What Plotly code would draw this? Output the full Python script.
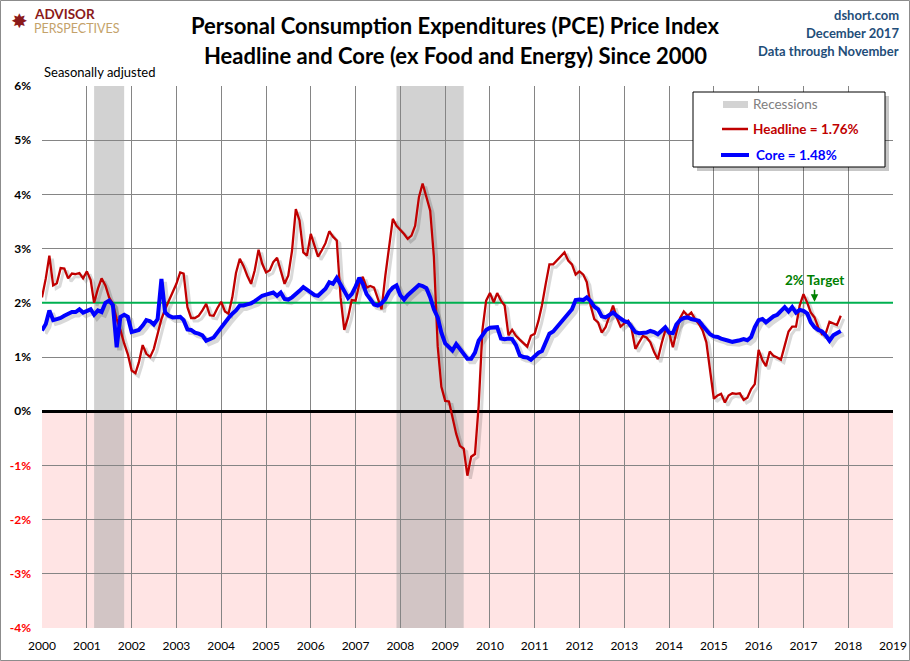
import pandas as pd
import plotly.graph_objects as go

START = "2000-01-01"

headline = [
    # 2000
    2.10, 2.45, 2.87, 2.32, 2.36, 2.64, 2.63, 2.45, 2.54, 2.53, 2.55, 2.45,
    # 2001
    2.58, 2.42, 2.00, 2.26, 2.45, 2.32, 2.10, 1.98, 1.70, 1.50, 1.25, 1.05,
    # 2002
    0.75, 0.70, 0.90, 1.22, 1.06, 1.00, 1.15, 1.45, 1.70, 1.88, 2.04, 2.20,
    # 2003
    2.35, 2.56, 2.54, 1.92, 1.72, 1.72, 1.76, 1.86, 1.98, 1.77, 1.76, 1.90,
    # 2004
    2.02, 1.84, 1.80, 2.10, 2.55, 2.81, 2.68, 2.50, 2.35, 2.60, 2.98, 2.72,
    # 2005
    2.56, 2.60, 2.75, 2.83, 2.59, 2.35, 2.50, 2.96, 3.73, 3.52, 2.93, 2.87,
    # 2006
    3.27, 3.06, 2.85, 2.97, 3.10, 3.32, 3.22, 3.15, 2.10, 1.50, 1.73, 2.05,
    # 2007
    2.04, 2.35, 2.48, 2.28, 2.31, 2.28, 2.08, 1.88, 2.50, 3.06, 3.55, 3.42,
    # 2008
    3.35, 3.27, 3.18, 3.24, 3.42, 3.95, 4.20, 3.95, 3.70, 2.85, 1.20, 0.45,
    # 2009
    0.19, 0.18, -0.10, -0.42, -0.64, -0.69, -1.19, -0.84, -0.79, 0.10, 1.50, 2.04,
    # 2010
    2.18, 2.01, 2.18, 2.04, 1.95, 1.40, 1.50, 1.39, 1.32, 1.25, 1.19, 1.39,
    # 2011
    1.43, 1.67, 1.95, 2.35, 2.71, 2.71, 2.78, 2.85, 2.93, 2.78, 2.71, 2.52,
    # 2012
    2.58, 2.52, 2.38, 1.95, 1.70, 1.64, 1.45, 1.55, 1.75, 1.95, 1.72, 1.56,
    # 2013
    1.62, 1.67, 1.52, 1.15, 1.27, 1.39, 1.36, 1.27, 1.09, 0.96, 1.25, 1.49,
    # 2014
    1.45, 1.18, 1.45, 1.72, 1.84, 1.76, 1.82, 1.70, 1.61, 1.49, 1.27, 0.80,
    # 2015
    0.23, 0.29, 0.32, 0.16, 0.29, 0.33, 0.32, 0.33, 0.21, 0.25, 0.41, 0.50,
    # 2016
    1.13, 0.94, 0.83, 1.10, 1.02, 0.99, 0.95, 1.21, 1.47, 1.56, 1.56, 1.95,
    # 2017
    2.16, 2.00, 1.82, 1.73, 1.55, 1.42, 1.43, 1.65, 1.62, 1.59, 1.76,
]

core = [
    # 2000
    1.49, 1.61, 1.86, 1.68, 1.70, 1.72, 1.76, 1.80, 1.83, 1.83, 1.88, 1.82,
    # 2001
    1.85, 1.88, 1.78, 1.86, 1.83, 2.00, 2.04, 1.96, 1.18, 1.74, 1.78, 1.74,
    # 2002
    1.46, 1.48, 1.50, 1.58, 1.68, 1.66, 1.60, 1.70, 2.44, 1.82, 1.76, 1.73,
    # 2003
    1.73, 1.74, 1.68, 1.51, 1.50, 1.45, 1.43, 1.40, 1.30, 1.34, 1.36, 1.45,
    # 2004
    1.55, 1.64, 1.72, 1.80, 1.86, 1.95, 1.95, 1.97, 1.99, 2.03, 2.08, 2.13,
    # 2005
    2.15, 2.17, 2.19, 2.13, 2.19, 2.07, 2.06, 2.10, 2.15, 2.22, 2.29, 2.24,
    # 2006
    2.18, 2.14, 2.13, 2.20, 2.26, 2.38, 2.35, 2.46, 2.35, 2.22, 2.09, 2.16,
    # 2007
    2.30, 2.46, 2.35, 2.16, 2.07, 1.97, 1.95, 1.99, 2.07, 2.20, 2.28, 2.32,
    # 2008
    2.14, 2.06, 2.14, 2.20, 2.25, 2.33, 2.31, 2.27, 2.10, 1.88, 1.73, 1.45,
    # 2009
    1.25, 1.18, 1.12, 1.24, 1.15, 1.05, 0.97, 0.97, 1.08, 1.30, 1.40, 1.50,
    # 2010
    1.54, 1.55, 1.55, 1.34, 1.33, 1.34, 1.33, 1.22, 1.03, 1.00, 0.99, 0.95,
    # 2011
    1.02, 1.08, 1.11, 1.28, 1.43, 1.47, 1.55, 1.64, 1.70, 1.78, 1.88, 2.05,
    # 2012
    2.06, 2.05, 2.10, 2.03, 1.93, 1.88, 1.75, 1.73, 1.78, 1.82, 1.76, 1.70,
    # 2013
    1.66, 1.64, 1.56, 1.46, 1.44, 1.44, 1.45, 1.48, 1.46, 1.42, 1.50, 1.55,
    # 2014
    1.45, 1.44, 1.60, 1.68, 1.72, 1.73, 1.70, 1.68, 1.67, 1.58, 1.50, 1.42,
    # 2015
    1.38, 1.37, 1.34, 1.31, 1.30, 1.28, 1.29, 1.31, 1.33, 1.31, 1.37, 1.55,
    # 2016
    1.68, 1.70, 1.64, 1.70, 1.75, 1.78, 1.84, 1.92, 1.84, 1.92, 1.82, 1.87,
    # 2017
    1.85, 1.80, 1.64, 1.55, 1.50, 1.47, 1.40, 1.30, 1.40, 1.45, 1.48,
]

recession_starts = ["2001-03-01", "2007-12-01"]
recession_ends = ["2001-11-01", "2009-06-01"]

target = 2.0
target_label_date = "2017-04-01"

y_ticks = [6, 5, 4, 3, 2, 1, 0, -1, -2, -3, -4]
x_years = list(range(2000, 2020))

dates = pd.date_range(START, periods=len(headline), freq="MS")

FONT = "Lato, 'Open Sans', sans-serif"
RED = "#C00000"
BLUE = "#0000FF"
REC_GREY = "#D3D3D3"
NAVY = "#1F4E79"

W, H = 910, 661
L, R, T, B = 42, 17, 86, 33
PW, PH = W - L - R, H - T - B


def px(x):
    return (x - L) / PW


def py(y):
    return (H - B - y) / PH


y_min, y_max = min(y_ticks), max(y_ticks)
x_start = pd.Timestamp(f"{x_years[0]}-01-01")
x_end = pd.Timestamp(f"{x_years[-1]}-01-01")

# drop-shadow axes: same scale, offset a few pixels right / down
SH_DX, SH_DY = 3, 3
sx = SH_DX / PW
sy = SH_DY / PH
shadow_x_range = [x_start, x_start + (x_end - x_start) * (1 - sx)]
shadow_y_range = [y_max - (y_max - y_min) * (1 - sy), y_max]

fig = go.Figure()

# shadows (drawn first, on the shifted hidden axes)
fig.add_trace(go.Scatter(
    x=dates, y=headline, mode="lines", xaxis="x", yaxis="y",
    line=dict(color="rgba(0,0,0,0.15)", width=3),
    showlegend=False, hoverinfo="skip",
))
fig.add_trace(go.Scatter(
    x=dates, y=core, mode="lines", xaxis="x", yaxis="y",
    line=dict(color="rgba(0,0,0,0.15)", width=5),
    showlegend=False, hoverinfo="skip",
))

fig.add_trace(go.Scatter(
    x=dates, y=headline, mode="lines", xaxis="x2", yaxis="y2",
    line=dict(color=RED, width=2.3), name="Headline",
))
fig.add_trace(go.Scatter(
    x=dates, y=core, mode="lines", xaxis="x2", yaxis="y2",
    line=dict(color=BLUE, width=4), name="Core",
))

zero_frac = (0 - y_min) / (y_max - y_min)

shapes = []
# negative zone
shapes.append(dict(type="rect", xref="paper", yref="paper", x0=0, x1=1,
                   y0=0, y1=zero_frac, fillcolor="#FFE4E4",
                   line=dict(width=0), layer="below"))
for s, e in zip(recession_starts, recession_ends):
    shapes.append(dict(type="rect", xref="x2", yref="paper", x0=s, x1=e,
                       y0=0, y1=1, fillcolor="rgba(168,168,168,0.52)",
                       line=dict(width=0), layer="below"))
# target line
shapes.append(dict(type="line", xref="x2", yref="y2", x0=x_start, x1=x_end,
                   y0=target, y1=target, line=dict(color="#00B050", width=2),
                   layer="between"))

# manual legend box (with shadow)
LX0, LX1, LY0, LY1 = 693, 885, 92, 167
shapes.append(dict(type="rect", xref="paper", yref="paper",
                   x0=px(LX0 + 4), x1=px(LX1 + 4), y0=py(LY1 + 4), y1=py(LY0 + 4),
                   fillcolor="rgba(0,0,0,0.22)", line=dict(width=0), layer="above"))
shapes.append(dict(type="rect", xref="paper", yref="paper",
                   x0=px(LX0), x1=px(LX1), y0=py(LY1), y1=py(LY0),
                   fillcolor="white", line=dict(color="#000000", width=1), layer="above"))
# legend swatches
shapes.append(dict(type="rect", xref="paper", yref="paper",
                   x0=px(723), x1=px(748), y0=py(108), y1=py(101),
                   fillcolor=REC_GREY, line=dict(width=0), layer="above"))
shapes.append(dict(type="line", xref="paper", yref="paper",
                   x0=px(722), x1=px(748), y0=py(129), y1=py(129),
                   line=dict(color=RED, width=2.5), layer="above"))
shapes.append(dict(type="line", xref="paper", yref="paper",
                   x0=px(721), x1=px(749), y0=py(155), y1=py(155),
                   line=dict(color=BLUE, width=4), layer="above"))

# outer frame
shapes.append(dict(type="rect", xref="paper", yref="paper",
                   x0=px(0.5), x1=px(W - 0.5), y0=py(H - 0.5), y1=py(0.5),
                   line=dict(color="#8C8C8C", width=1), fillcolor="rgba(0,0,0,0)"))

tick_text = []
for v in y_ticks:
    if v < 0:
        tick_text.append(f'<span style="color:#FF0000"><b>{v}%</b></span>')
    else:
        tick_text.append(f"<b>{v}%</b>")


def txt(text, x, y, size, color, anchor="left", family=FONT):
    return dict(text=text, x=px(x), y=py(y), xref="paper", yref="paper",
                showarrow=False, font=dict(family=family, size=size, color=color),
                xanchor=anchor, yanchor="middle")


annotations = [
    txt("<b>Personal Consumption Expenditures (PCE) Price Index</b>", 455, 25, 22, "#000000", "center"),
    txt("<b>Headline and Core (ex Food and Energy) Since 2000</b>", 455, 55, 22, "#000000", "center"),
    txt("<b>dshort.com</b>", 901, 15, 13, NAVY, "right"),
    txt("<b>December 2017</b>", 901, 33, 13, NAVY, "right"),
    txt("<b>Data through November</b>", 901, 51, 13, NAVY, "right"),
    txt("Seasonally adjusted", 42, 72, 13, "#000000", "left"),
    # logo
    txt("✸", 19, 21, 20, "#8B1A1A", "center", "DejaVu Sans"),
    txt("<b>ADVISOR</b>", 32, 14.5, 13.5, "#8B1A1A", "left"),
    txt("PERSPECTIVES", 32, 29, 12.5, "#C4A26A", "left"),
    # legend texts
    txt("Recessions", 751, 104, 13.5, "#808080", "left"),
    txt(f"<b>Headline = {headline[-1]:.2f}%</b>", 751, 129, 13.5, RED, "left"),
    txt(f"<b>Core = {core[-1]:.2f}%</b>", 754, 155, 13.5, BLUE, "left"),
    # target label
    dict(text="<b>2% Target</b>", x=target_label_date, y=target, xref="x2", yref="y2",
         showarrow=True, arrowhead=2, arrowsize=1, arrowwidth=1.5,
         arrowcolor="#008000", ax=0, ay=-13, standoff=1,
         font=dict(family=FONT, size=13.5, color="#008000"), yanchor="bottom"),
]

fig.update_layout(
    width=W, height=H,
    margin=dict(l=L, r=R, t=T, b=B, pad=0),
    paper_bgcolor="white", plot_bgcolor="rgba(0,0,0,0)",
    font=dict(family=FONT, size=12, color="#000000"),
    shapes=shapes, annotations=annotations,
    showlegend=False,
    xaxis=dict(
        type="date", domain=[sx, 1], range=shadow_x_range, visible=False,
        anchor="y", fixedrange=True,
    ),
    yaxis=dict(
        domain=[0, 1 - sy], range=shadow_y_range, visible=False,
        anchor="x", fixedrange=True,
    ),
    xaxis2=dict(
        type="date", domain=[0, 1], anchor="y2",
        range=[x_start, x_end],
        tickvals=[f"{y}-01-01" for y in x_years],
        ticktext=[str(y) for y in x_years],
        showgrid=True, gridcolor="#858585", gridwidth=1,
        showline=False, zeroline=False, ticks="", ticklabelstandoff=9,
        tickfont=dict(family=FONT, size=12, color="#000000"),
        automargin=False,
    ),
    yaxis2=dict(
        domain=[0, 1], anchor="x2",
        range=[y_min, y_max],
        tickvals=y_ticks, ticktext=tick_text,
        showgrid=True, gridcolor="#858585", gridwidth=1,
        zeroline=True, zerolinecolor="#000000", zerolinewidth=2.5,
        showline=False, ticks="", ticklabelstandoff=10,
        tickfont=dict(family=FONT, size=12, color="#000000"),
        automargin=False,
    ),
)

fig.write_html("out.html", config={"displayModeBar": False},
               post_script="document.body.style.margin='0';")
